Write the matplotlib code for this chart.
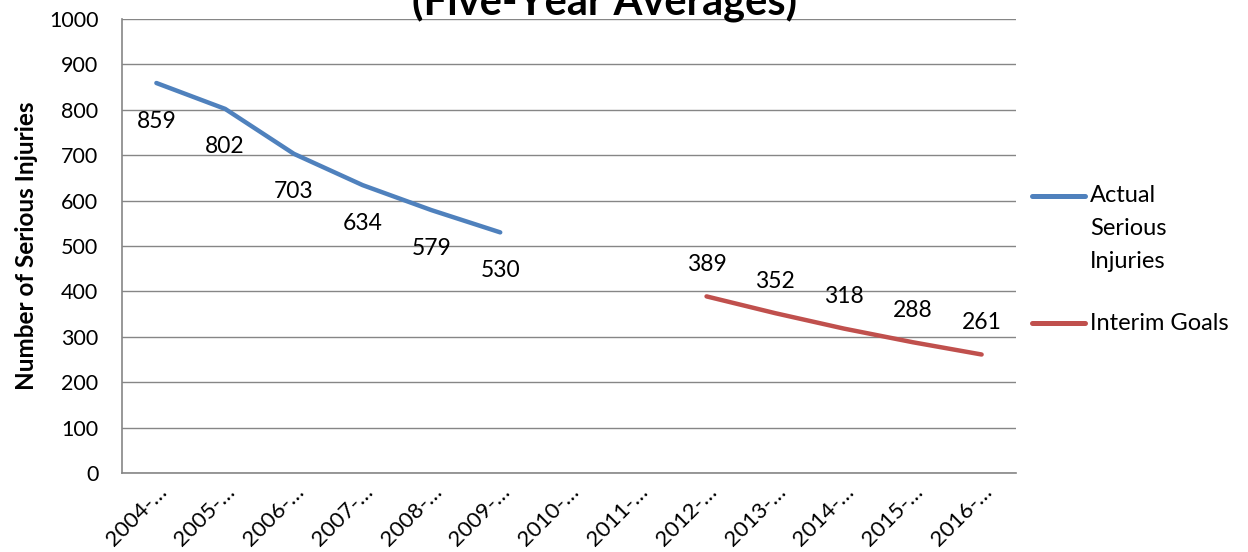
import matplotlib
matplotlib.use("Agg")
import matplotlib.pyplot as plt
from matplotlib.lines import Line2D
import numpy as np

categories = ["2004-…", "2005-…", "2006-…", "2007-…", "2008-…", "2009-…", "2010-…",
              "2011-…", "2012-…", "2013-…", "2014-…", "2015-…", "2016-…"]
actual_idx = [0, 1, 2, 3, 4, 5]
actual_vals = [859, 802, 703, 634, 579, 530]
goal_idx = [8, 9, 10, 11, 12]
goal_vals = [389, 352, 318, 288, 261]
legend_labels = [["Actual", "Serious", "Injuries"], ["Interim Goals"]]

BLUE = "#4F81BD"
RED = "#C0504D"
W, H = 1248, 552

plt.rcParams["font.family"] = ["Lato", "DejaVu Sans"]

fig = plt.figure(figsize=(W / 100, H / 100), dpi=100)
ax = fig.add_axes([122 / W, 1 - 473 / H, 894 / W, 454 / H])

l1, = ax.plot(actual_idx, actual_vals, color=BLUE, lw=3.2, solid_capstyle="round")
l2, = ax.plot(goal_idx, goal_vals, color=RED, lw=3.2, solid_capstyle="round")

for i, v in zip(actual_idx, actual_vals):
    ax.annotate(str(v), (i, v), xytext=(0, -38), textcoords="offset pixels",
                ha="center", va="center", fontsize=16.5)
for i, v in zip(goal_idx, goal_vals):
    ax.annotate(str(v), (i, v), xytext=(0, 32), textcoords="offset pixels",
                ha="center", va="center", fontsize=16.5)

ax.set_xlim(-0.5, 12.5)
ax.set_ylim(0, 1000)
ax.set_yticks(np.arange(0, 1001, 100))
ax.set_xticks(range(len(categories)))
ax.set_xticklabels(categories, rotation=45, ha="right", rotation_mode="anchor", fontsize=16)
ax.tick_params(axis="x", length=0, pad=6)
ax.tick_params(axis="y", labelsize=15.5, length=0, pad=17)
ax.yaxis.grid(True, color="#868686", lw=1)
ax.set_axisbelow(True)
for s in ["top", "right"]:
    ax.spines[s].set_visible(False)
for s in ["left", "bottom"]:
    ax.spines[s].set_color("#868686")
    ax.spines[s].set_linewidth(1.2)

ax.set_ylabel("Number of Serious Injuries", fontsize=17.5, fontweight="bold", labelpad=8)

# legend drawn by hand so the key sits on the first text line, as in the original
legend_rows = [(l1, 196), (l2, 323)]
for (line, y0), lines in zip(legend_rows, legend_labels):
    fig.add_artist(Line2D([1032 / W, 1085 / W], [1 - y0 / H] * 2, color=line.get_color(),
                          lw=3.6, solid_capstyle="round"))
    for k, txt in enumerate(lines):
        fig.text(1090 / W, 1 - (y0 + 32.5 * k) / H, txt, ha="left", va="center", fontsize=17)

# title sits partly above the canvas in the original, only its lower half shows
fig.text(605 / W, 1 - 14 / H, "(Five-Year Averages)", ha="center", va="baseline",
         fontsize=30, fontweight="bold")

fig.savefig("out.png", dpi=100)
